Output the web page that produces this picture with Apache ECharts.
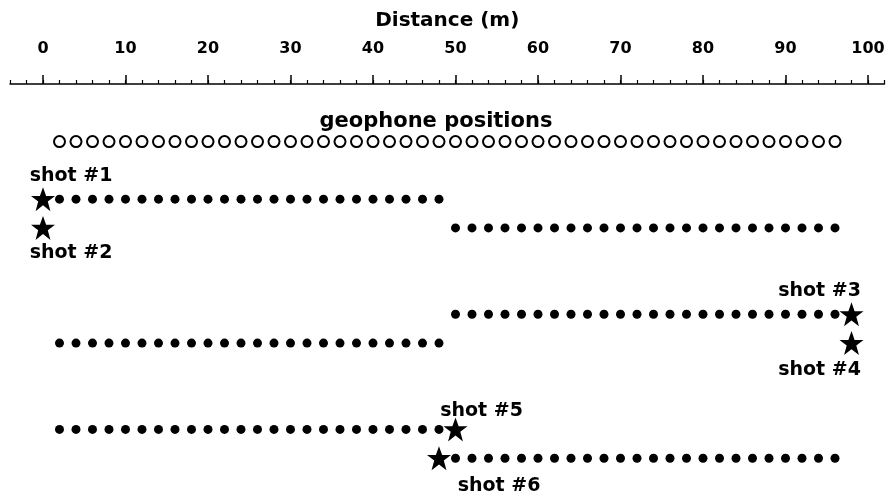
<!DOCTYPE html>
<html>
<head>
<meta charset="utf-8">
<script src="https://cdn.jsdelivr.net/npm/echarts@6/dist/echarts.min.js"></script>
<style>
  html, body { margin: 0; padding: 0; background: #fff; }
  #chart { width: 888px; height: 499px; }
</style>
</head>
<body>
<div id="chart"></div>
<script>
// distance along the line (m)
const majorTicks = [0, 10, 20, 30, 40, 50, 60, 70, 80, 90, 100]
const geophoneX = [2, 4, 6, 8, 10, 12, 14, 16, 18, 20, 22, 24, 26, 28, 30, 32, 34, 36, 38, 40, 42, 44, 46, 48,
  50, 52, 54, 56, 58, 60, 62, 64, 66, 68, 70, 72, 74, 76, 78, 80, 82, 84, 86, 88, 90, 92, 94, 96]
const leftSpread = [2, 4, 6, 8, 10, 12, 14, 16, 18, 20, 22, 24, 26, 28, 30, 32, 34, 36, 38, 40, 42, 44, 46, 48]
const rightSpread = [50, 52, 54, 56, 58, 60, 62, 64, 66, 68, 70, 72, 74, 76, 78, 80, 82, 84, 86, 88, 90, 92, 94, 96]

// shots: name, source position, row, which spread was recorded
const shotNames = ['shot #1', 'shot #2', 'shot #3', 'shot #4', 'shot #5', 'shot #6']
const shotX = [0, 0, 98, 98, 50, 48]
const shotRow = [2, 3, 6, 7, 10, 11]
const shotSpread = ['left', 'right', 'right', 'left', 'left', 'right']
const geophoneRow = 0

const labelOffsets = [[28, -23], [28, 25], [-32, -23], [-32, 27], [26, -18], [60, 28]]
const FONT = 'DejaVu Sans'
const STAR = 'path://M50,0 L63,35 L100,35 L70,57 L81,95 L50,72 L19,95 L30,57 L0,35 L37,35 Z'

const receiverData = []
shotRow.forEach((row, i) => {
  const xs = shotSpread[i] === 'left' ? leftSpread : rightSpread
  xs.forEach(x => receiverData.push([x, row]))
})

const chart = echarts.init(document.getElementById('chart'))
chart.setOption({
  backgroundColor: '#fff',
  animation: false,
  grid: { left: 10, right: 3.5, top: 84, bottom: 12 },
  xAxis: [
    {
      type: 'value',
      position: 'top',
      min: -4,
      max: 102,
      name: 'Distance (m)',
      nameLocation: 'middle',
      nameGap: 53,
      nameTextStyle: { color: '#000', fontFamily: FONT, fontWeight: 'bold', fontSize: 20 },
      axisLine: { show: true, onZero: false, lineStyle: { color: '#000', width: 1.5 } },
      axisTick: { show: true, customValues: majorTicks, length: 9, lineStyle: { color: '#000', width: 1.5 } },
      axisLabel: {
        customValues: majorTicks,
        color: '#000',
        fontFamily: FONT,
        fontWeight: 'bold',
        fontSize: 16,
        margin: 27
      },
      splitLine: { show: false }
    },
    {
      type: 'value',
      position: 'top',
      min: -4,
      max: 102,
      interval: 2,
      axisLine: { show: false, onZero: false },
      axisTick: { show: true, length: 4, lineStyle: { color: '#000', width: 1.2 } },
      axisLabel: { show: false },
      splitLine: { show: false }
    }
  ],
  yAxis: {
    type: 'value',
    inverse: true,
    min: -2,
    max: 12,
    show: false,
    splitLine: { show: false }
  },
  graphic: [
    {
      type: 'text',
      x: 436,
      y: 122,
      style: {
        text: 'geophone positions',
        fill: '#000',
        font: 'bold 21px "DejaVu Sans"',
        align: 'center',
        verticalAlign: 'middle'
      }
    }
  ],
  series: [
    {
      name: 'geophones',
      type: 'scatter',
      symbol: 'circle',
      symbolSize: 11,
      itemStyle: { color: '#fff', borderColor: '#000', borderWidth: 2, opacity: 1 },
      data: geophoneX.map(x => [x, geophoneRow])
    },
    {
      name: 'receivers',
      type: 'scatter',
      symbol: 'circle',
      symbolSize: 9,
      itemStyle: { color: '#000', opacity: 1 },
      data: receiverData
    },
    {
      name: 'shots',
      type: 'scatter',
      symbol: STAR,
      symbolSize: 24,
      z: 5,
      itemStyle: { color: '#000', opacity: 1 },
      data: shotX.map((x, i) => ({
        value: [x, shotRow[i]],
        name: shotNames[i],
        label: { offset: labelOffsets[i] }
      })),
      label: {
        show: true,
        position: 'inside',
        formatter: p => p.name,
        color: '#000',
        fontFamily: FONT,
        fontWeight: 'bold',
        fontSize: 19
      }
    }
  ]
})
</script>
</body>
</html>
